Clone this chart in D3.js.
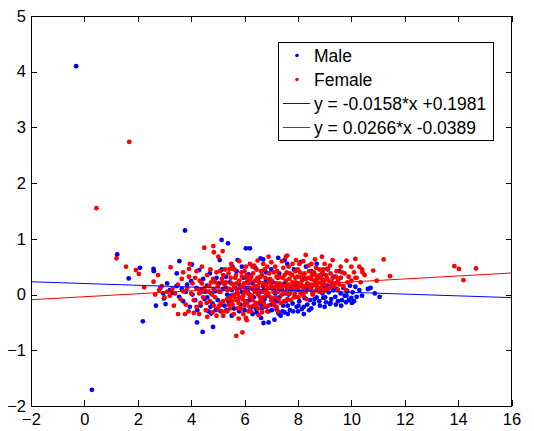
<!DOCTYPE html>
<html>
<head>
<meta charset="utf-8">
<script src="https://cdn.jsdelivr.net/npm/d3@7"></script>
<style>
  html, body { margin: 0; padding: 0; background: #fff; }
  svg { display: block; }
  text { font-family: "Liberation Sans", Arial, Helvetica, sans-serif; fill: #000; }
</style>
</head>
<body>
<div id="chart"></div>
<script>
// ---------------- DATA ----------------
const xTicks = [-2, 0, 2, 4, 6, 8, 10, 12, 14, 16];
const yTicks = [-2, -1, 0, 1, 2, 3, 4, 5];
const seriesNames = ["Male", "Female"];
const fitLabels = ["y = -0.0158*x +0.1981", "y = 0.0266*x -0.0389"];
const fitCoefs = [[-0.0158, 0.1981], [0.0266, -0.0389]];

const maleData = [
[-0.31,4.10],[0.28,-1.71],[1.23,0.72],[1.66,0.29],[2.08,0.48],[2.19,-0.48],[2.59,0.46],[2.6,0.42],[2.68,-0.20],[2.98,-0.07],
[3.04,-0.17],[3.56,0.60],[3.77,1.15],[4.03,0.54],[3.46,0.38],[4.43,-0.67],[4.82,-0.58],[4.22,-0.50],[4.23,-0.28],[4.75,-0.34],
[5.14,0.98],[5.38,0.92],[6.05,0.83],[6.20,0.83],[11.06,-0.04],[10.88,0.02],[10.72,0.12],[10.62,0.10],[9.2,-0.17],[6.71,-0.51],
[6.9,-0.50],[7.27,-0.34],[5.07,0.62],[5.74,0.62],[6.6,0.65],[6.7,0.63],[7.26,0.66],[7.5,0.62],
[2.85,0.12],[2.95,0.02],[3.1,0.2],[3.2,0.08],[3.3,0.03],[3.45,0.15],[3.55,-0.04],[3.65,0.1],[3.7,-0.12],[3.8,0.05],
[3.85,0.18],[3.95,-0.22],[4.0,0.24],[4.05,0.0],[4.15,-0.1],[4.2,0.12],[4.3,0.44],[4.35,-0.2],[4.4,0.08],[4.45,0.28],
[4.5,-0.08],[4.6,0.16],[4.65,-0.3],[4.7,0.38],[4.75,0.02],[4.8,-0.16],[4.9,0.06],[4.95,0.3],[5.0,-0.1],[5.05,0.2],
[5.1,-0.3],[5.15,0.45],[5.2,0.1],[5.25,-0.2],[5.3,0.32],[5.35,0.0],[5.4,-0.12],[5.45,0.22],[5.5,-0.02],[5.55,0.5],
[5.6,-0.25],[5.65,0.12],[5.7,0.42],[5.75,-0.08],[5.8,0.18],[5.85,-0.18],[5.9,0.05],[5.95,0.3],[6.0,-0.28],[6.05,0.12],
[6.1,-0.12],[6.15,0.36],[6.2,0.0],[6.25,-0.22],[6.3,0.2],[6.35,-0.05],[6.4,0.1],[6.45,-0.32],[6.5,0.28],[6.55,-0.15],
[6.6,0.05],[6.65,-0.25],[6.7,0.15],[6.75,-0.08],[6.8,0.4],[6.85,-0.02],[6.9,-0.3],[6.95,0.12],[7.0,-0.18],[7.05,0.22],
[7.1,-0.1],[7.15,0.02],[7.2,-0.26],[7.25,0.3],[7.3,-0.05],[7.35,-0.38],[7.4,0.1],[7.45,-0.2],[7.5,0.2],[7.55,-0.12],
[7.6,0.55],[7.65,0.0],[7.7,-0.28],[7.75,0.12],[7.8,-0.16],[7.85,0.45],[7.9,-0.04],[7.95,-0.22],[8.0,0.08],[8.05,-0.12],
[8.1,0.58],[8.15,-0.26],[8.2,0.28],[8.25,-0.06],[8.3,0.5],[8.35,-0.18],[8.4,0.1],[8.45,-0.1],[8.5,0.42],[8.55,0.02],
[8.6,-0.16],[8.65,0.18],[8.7,-0.05],[8.75,0.3],[8.8,-0.12],[8.85,0.08],[8.9,0.36],[8.95,-0.06],[9.0,0.14],[9.05,-0.14],
[9.1,0.46],[9.15,0.04],[9.25,-0.08],[9.3,0.2],[9.35,0.32],[9.4,-0.04],[9.45,0.1],[9.5,-0.12],[9.55,0.42],[9.6,0.02],
[9.65,-0.1],[9.7,0.12],[9.75,-0.02],[9.8,-0.14],[9.85,0.06],[9.9,-0.1],[9.95,0.16],[10.0,-0.06],[10.05,0.04],[10.1,-0.12],
[10.15,0.14],[10.2,-0.04],[9.0,-0.22],[8.5,-0.25],[8.0,-0.3],[7.5,-0.32],[6.3,-0.35],[5.8,-0.3],[6.8,0.25],[7.0,0.45],
[6.4,0.48],[5.9,0.5],[7.3,0.38],[6.1,0.22],[5.3,0.12],[4.6,-0.05],[8.7,0.55],[9.6,0.3],[8.9,0.2],[10.3,0.08],[10.4,-0.02],
[6.02,-0.18],[6.22,-0.1],[6.42,-0.25],[6.62,-0.18],[6.82,-0.22],[7.02,-0.28],[7.22,-0.12],[7.42,-0.3],[7.62,-0.2],[7.82,-0.3],
[8.02,-0.2],[8.22,-0.22],[8.42,-0.28],[8.62,-0.08],[8.82,-0.2],[9.02,-0.05],[9.22,-0.15],[9.42,-0.18],[9.62,-0.2],[9.82,-0.02],
[10.02,-0.15],[7.12,0.08],[7.32,0.15],[7.52,0.02],[7.72,0.08],[7.92,0.18],[8.12,0.05],[8.32,0.12],[8.52,0.15],[8.72,0.1],
[8.92,0.02],[9.12,0.15],[9.32,0.08],[5.52,0.08],[5.72,0.02],[5.92,0.15],[6.12,0.05],[6.32,0.1],[6.52,0.02],[6.72,0.08],
[4.52,0.05],[4.72,-0.22],[4.92,-0.28],[5.12,-0.18],[5.32,-0.28],[5.52,-0.38],[6.62,-0.42],[7.12,-0.45],[7.62,-0.35],[8.22,-0.35]
];

const femaleData = [
[1.68,2.74],[0.45,1.55],[1.2,0.65],[1.56,0.50],[1.93,0.44],[2.04,0.37],[2.24,0.13],[2.59,0.23],[2.76,0.35],[3.23,0.49],
[4.49,0.84],[4.83,0.87],[5.18,0.78],[4.85,0.76],[5.02,0.68],[3.92,0.32],[3.92,0.46],[3.51,-0.35],[3.77,-0.35],[4.1,-0.33],
[4.3,-0.35],[5.69,-0.74],[5.92,-0.68],[5.78,-0.43],[6.05,-0.42],[6.08,-0.46],[6.53,-0.37],[11.21,0.63],[11.45,0.33],[10.95,0.25],
[10.82,0.43],[10.4,0.45],[10.42,0.40],[10.15,0.64],[9.82,0.61],[13.86,0.51],[14.03,0.46],[14.2,0.26],[14.67,0.47],[8.9,0.68],
[8.29,0.71],[8.64,0.63],[7.93,0.62],[7.55,0.68],[7.6,0.70],[6.9,0.68],[6.49,0.61],[5.45,0.46],[5.55,0.47],
[2.65,0.0],[2.8,0.08],[2.9,0.15],[3.0,-0.05],[3.1,0.05],[3.2,-0.02],[3.3,0.1],[3.35,-0.2],[3.4,0.02],[3.5,0.18],
[3.6,-0.08],[3.65,0.28],[3.7,0.06],[3.8,-0.18],[3.85,0.12],[3.9,-0.3],[4.0,0.02],[4.05,0.2],[4.1,-0.1],[4.15,0.3],
[4.2,-0.22],[4.25,0.1],[4.3,0.02],[4.35,-0.15],[4.4,0.2],[4.45,-0.05],[4.5,0.12],[4.55,-0.28],[4.6,0.35],[4.65,0.05],
[4.7,-0.12],[4.75,0.22],[4.8,-0.32],[4.85,0.1],[4.9,-0.05],[4.95,0.4],[5.0,0.15],[5.05,-0.2],[5.1,0.05],[5.15,0.28],
[5.2,-0.12],[5.25,0.18],[5.3,-0.3],[5.35,0.08],[5.4,0.38],[5.45,-0.05],[5.5,0.2],[5.55,-0.18],[5.6,0.12],[5.65,0.3],
[5.7,-0.1],[5.75,0.02],[5.8,0.25],[5.85,-0.25],[5.9,0.15],[5.95,-0.02],[6.0,0.42],[6.05,0.08],[6.1,-0.15],[6.15,0.2],
[6.2,-0.05],[6.25,0.32],[6.3,0.1],[6.35,-0.2],[6.4,0.15],[6.45,0.45],[6.5,0.0],[6.55,0.22],[6.6,-0.12],[6.65,0.35],
[6.7,0.05],[6.75,-0.22],[6.8,0.18],[6.85,0.5],[6.9,0.02],[6.95,0.28],[7.0,-0.1],[7.05,0.12],[7.1,0.4],[7.15,-0.05],
[7.2,0.2],[7.25,0.05],[7.3,0.32],[7.35,-0.15],[7.4,0.15],[7.45,0.48],[7.5,0.05],[7.55,0.25],[7.6,-0.08],[7.65,0.18],
[7.7,0.38],[7.75,0.08],[7.8,0.22],[7.85,-0.05],[7.9,0.3],[7.95,0.1],[8.0,0.45],[8.05,0.15],[8.1,0.02],[8.15,0.25],
[8.2,0.12],[8.25,0.38],[8.3,0.05],[8.35,0.2],[8.4,0.52],[8.45,0.1],[8.5,0.28],[8.55,0.0],[8.6,0.18],[8.65,0.35],
[8.7,0.08],[8.75,0.22],[8.8,0.45],[8.85,0.12],[8.9,0.28],[8.95,0.05],[9.0,0.18],[9.05,0.35],[9.1,0.1],[9.15,0.25],
[9.2,0.52],[9.25,0.15],[9.3,0.3],[9.4,0.2],[9.45,0.42],[9.5,0.25],[9.6,0.3],[9.7,0.15],[9.75,0.38],[9.85,0.22],
[9.9,0.32],[10.0,0.25],[10.1,0.4],[10.2,0.3],[10.3,0.5],[10.35,0.22],[10.5,0.35],
[5.6,0.0],[5.7,0.2],[5.8,-0.05],[5.9,0.32],[6.0,0.05],[6.1,0.28],[6.2,0.12],[6.3,-0.1],[6.4,0.25],[6.5,0.15],
[6.6,0.32],[6.7,-0.05],[6.8,0.08],[6.9,0.22],[7.0,0.15],[7.1,-0.15],[7.2,0.32],[7.3,0.12],[7.4,0.0],[7.5,0.35],
[7.6,0.12],[7.7,0.02],[7.8,0.1],[7.9,0.42],[8.0,0.2],[8.1,0.32],[8.2,-0.02],[8.3,0.28],[8.4,0.15],[8.5,0.08],
[8.6,0.4],[8.7,0.15],[8.8,0.05],[5.2,0.35],[5.0,-0.25],[4.9,0.22],[5.4,-0.18],[5.5,0.55],[6.0,-0.2],[6.2,0.55],
[6.5,-0.25],[6.9,-0.2],[7.2,-0.22],[7.0,0.58],[6.7,0.55],[7.4,0.6],[7.8,0.55],[8.2,0.6],[8.5,0.55],[5.2,-0.38],
[4.6,-0.4],[4.4,0.5],[4.2,0.42],[3.95,0.55],[3.7,0.4],[5.8,0.6],[6.3,0.5],[5.95,-0.35],[6.25,-0.3],[5.35,-0.3],
[4.95,-0.38],[9.3,0.62],[9.0,0.55],[8.95,0.45],[9.6,0.5],[10.0,0.5],[10.15,0.3],[9.8,0.08],[9.5,0.08],
[5.3,0.22],[5.35,-0.08],[5.42,0.1],[5.48,0.3],[5.52,-0.12],[5.58,0.18],[5.62,-0.05],[5.68,0.35],[5.72,0.08],[5.78,-0.15],
[5.82,0.12],[5.88,0.4],[5.92,-0.08],[5.98,0.2],[6.02,-0.12],[6.08,0.35],[6.12,0.02],[6.18,-0.22],[6.22,0.25],[6.28,-0.02],
[6.32,0.38],[6.38,0.05],[6.42,-0.15],[6.48,0.3],[6.52,0.08],[6.58,-0.05],[6.62,0.42],[6.68,0.2],[6.72,-0.15],[6.78,0.3],
[6.82,0.0],[6.88,0.12],[6.92,0.38],[6.98,-0.05],[7.02,0.25],[7.08,0.05],[7.12,-0.2],[7.18,0.15],[7.22,0.42],[7.28,-0.08],
[7.32,0.2],[7.38,0.08],[7.42,0.3],[7.48,-0.12],[7.52,0.15],[7.58,0.4],[7.62,0.02],[7.68,0.28],[7.72,-0.1],[7.78,0.35],
[7.82,0.15],[7.88,0.02],[7.92,0.22],[7.98,0.32],[8.02,-0.05],[8.08,0.4],[8.12,0.18],[8.18,0.05],[8.22,0.35],[8.28,0.15],
[8.32,-0.08],[8.38,0.3],[8.42,0.42],[8.48,0.18],[8.52,0.35],[8.58,0.05],[8.62,0.25],[8.68,0.48],[8.72,0.3],[8.78,0.12],
[8.82,0.35],[8.88,0.2],[8.92,0.4],[8.98,0.25],[9.02,0.08],[9.08,0.3],[9.12,0.45],[9.18,0.12],[9.22,0.38],[9.28,0.22],
[9.35,0.15],[9.42,0.32],[9.55,0.18],[9.65,0.4],[5.05,0.05],[5.12,-0.15],[5.18,0.22],[4.82,0.28],[4.78,0.0],[4.68,0.15],
[4.58,-0.15],[4.42,0.05],[4.32,0.25],[4.72,0.45],[5.08,0.42],[5.28,0.45],[5.62,0.45],[6.05,0.5],[6.35,0.52],[6.75,0.45],
[7.15,0.5],[7.65,0.5],[8.05,0.55],[5.75,-0.25],[6.15,-0.3],[6.45,-0.18],[6.85,-0.3],[7.25,-0.3],[5.45,-0.25],[5.15,-0.3],
[4.85,-0.2],[5.6,-0.35],[6.65,-0.32]
];

const colors = ["#0000ff", "#ff0000"];

// ---------------- LAYOUT ----------------
const W = 534, H = 431;
const plot = { left: 31, right: 511.5, top: 16, bottom: 406 };

const svg = d3.select("#chart").append("svg")
  .attr("width", W).attr("height", H);

const x = d3.scaleLinear().domain([-2, 16]).range([plot.left, plot.right]);
const y = d3.scaleLinear().domain([-2, 5]).range([plot.bottom, plot.top]);

svg.append("rect").attr("width", W).attr("height", H).attr("fill", "#fff");

// Points
const series = [maleData, femaleData];
series.forEach((data, i) => {
  svg.append("g").selectAll("circle").data(data).join("circle")
    .attr("cx", d => x(d[0]))
    .attr("cy", d => y(d[1]))
    .attr("r", 2.4)
    .attr("fill", colors[i]);
});

// Fit lines
fitCoefs.forEach((c, i) => {
  const xs = x.domain();
  svg.append("line")
    .attr("x1", x(xs[0])).attr("y1", y(c[0] * xs[0] + c[1]))
    .attr("x2", x(xs[1])).attr("y2", y(c[0] * xs[1] + c[1]))
    .attr("stroke", colors[i]).attr("stroke-width", 1);
});

// Axes (ticks inside, MATLAB box)
const fontSize = 16.5;
const tickLen = 6;
const gB = svg.append("g").attr("transform", `translate(0,${plot.bottom})`)
  .call(d3.axisBottom(x).tickValues(xTicks).tickSize(-tickLen).tickPadding(7).tickFormat(d3.format("d")));
const gT = svg.append("g").attr("transform", `translate(0,${plot.top})`)
  .call(d3.axisTop(x).tickValues(xTicks).tickSize(-tickLen).tickFormat(""));
const gL = svg.append("g").attr("transform", `translate(${plot.left},0)`)
  .call(d3.axisLeft(y).tickValues(yTicks).tickSize(-tickLen).tickPadding(5).tickFormat(d3.format("d")));
const gR = svg.append("g").attr("transform", `translate(${plot.right},0)`)
  .call(d3.axisRight(y).tickValues(yTicks).tickSize(-tickLen).tickFormat(""));

[gB, gT, gL, gR].forEach(g => {
  g.select(".domain").remove();
  g.selectAll(".tick line").attr("stroke", "#000").attr("shape-rendering", "crispEdges");
  g.selectAll("text").attr("font-size", fontSize).attr("font-family", "'Liberation Sans', Arial, sans-serif").attr("fill", "#000");
});

svg.append("rect")
  .attr("x", plot.left).attr("y", plot.top)
  .attr("width", plot.right - plot.left).attr("height", plot.bottom - plot.top)
  .attr("fill", "none").attr("stroke", "#000").attr("stroke-width", 1)
  .attr("shape-rendering", "crispEdges");

// Legend
const lg = svg.append("g");
lg.append("rect").attr("x", 278.5).attr("y", 42.5).attr("width", 215).attr("height", 98)
  .attr("fill", "#fff").attr("stroke", "#000").attr("stroke-width", 1);
const rowY = [55.5, 79.5, 103.5, 127.5];
const legFont = 17.5;
seriesNames.forEach((name, i) => {
  lg.append("circle").attr("cx", 297).attr("cy", rowY[i]).attr("r", 1.8).attr("fill", colors[i]);
  lg.append("text").attr("x", 314).attr("y", rowY[i]).attr("dy", "0.36em")
    .attr("font-size", legFont).text(name);
});
fitLabels.forEach((label, i) => {
  const yy = rowY[i + 2];
  lg.append("line").attr("x1", 283).attr("x2", 310).attr("y1", yy).attr("y2", yy)
    .attr("stroke", colors[i]).attr("stroke-width", 1).attr("shape-rendering", "crispEdges");
  lg.append("text").attr("x", 314).attr("y", yy).attr("dy", "0.36em")
    .attr("font-size", legFont).text(label);
});
</script>
</body>
</html>
